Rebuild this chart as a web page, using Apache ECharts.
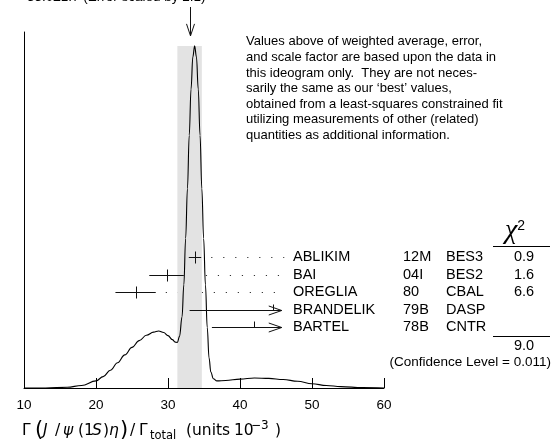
<!DOCTYPE html>
<html><head><meta charset="utf-8">
<script src="https://cdn.jsdelivr.net/npm/echarts@6/dist/echarts.min.js"></script>
<style>html,body{margin:0;padding:0;background:#fff}#c{width:552px;height:448px}</style>
</head><body><div id="c"></div>
<script>
// ---------- data ----------
const xTicks = [10, 20, 30, 40, 50, 60];
const names = ['ABLIKIM', 'BAI', 'OREGLIA', 'BRANDELIK', 'BARTEL'];
const years = ['12M', '04I', '80', '79B', '78B'];
const experiments = ['BES3', 'BES2', 'CBAL', 'DASP', 'CNTR'];
const values = [33.75, 29.8, 25.5, 44.6, 41.9];
const errors = [0.86, 2.4, 2.8, 11.6, 5.8];
const chi2 = ['0.9', '1.6', '6.6', '', ''];
const chi2Total = '9.0';
const confidenceLevel = '0.011';
const average = 33.0;
const averageError = 1.7;
const scaleFactor = 2.1;
const ideogramX = [10.0, 13.0, 16.0, 18.0, 20.0, 21.0, 22.0, 23.0, 24.0, 25.0, 26.0, 27.0, 28.0, 28.7, 29.4, 30.0, 30.6, 31.0, 31.3, 31.6, 31.95, 32.2, 32.45, 32.7, 32.95, 33.2, 33.45, 33.7, 33.95, 34.2, 34.45, 34.7, 34.95, 35.2, 35.45, 35.7, 35.95, 36.3, 36.8, 38.0, 40.0, 42.0, 44.0, 46.0, 48.0, 50.0, 52.0, 54.0, 57.0, 60.0];
const ideogramY = [0.000, 0.000, 0.002, 0.007, 0.020, 0.032, 0.050, 0.071, 0.093, 0.114, 0.133, 0.148, 0.157, 0.160, 0.156, 0.147, 0.136, 0.129, 0.128, 0.145, 0.200, 0.290, 0.420, 0.560, 0.710, 0.840, 0.930, 0.961, 0.930, 0.840, 0.710, 0.560, 0.420, 0.290, 0.170, 0.085, 0.045, 0.026, 0.020, 0.021, 0.025, 0.028, 0.027, 0.024, 0.019, 0.012, 0.007, 0.004, 0.001, 0.000];
const paragraph = [
  'Values above of weighted average, error,',
  'and scale factor are based upon the data in',
  'this ideogram only.  They are not neces-',
  "sarily the same as our \u2018best\u2019 values,",
  'obtained from a least-squares constrained fit',
  'utilizing measurements of other (related)',
  'quantities as additional information.'
];

// ---------- layout ----------
const FONT = '"Liberation Sans", Arial, Helvetica, sans-serif';
const MATH = '"DejaVu Sans", sans-serif';
const labelEdge = 45.8;               // x value where the label column begins
const colName = 293, colYear = 403, colExp = 446, colChi = 524;

const chart = echarts.init(document.getElementById('c'), null, {renderer: 'canvas'});

const curveData = ideogramX.map((x, i) => [x, ideogramY[i]]);
const measData = values.map((v, i) => [v, i, errors[i]]);
const peak = Math.max(...ideogramY);

function px(v) { return Math.round(v) + 0.5; }

function renderDots(params, api) {
  const v = api.value(0), row = api.value(1), e = api.value(2);
  const hi = api.coord([v + e, row]);
  const edge = api.coord([labelEdge, row]);
  if (hi[0] >= edge[0]) return {type: 'group', children: []};
  const y = px(hi[1]);
  return {type: 'line', shape: {x1: hi[0] + 10, y1: y, x2: edge[0] + 2.5, y2: y},
    style: {stroke: '#333', lineWidth: 1, lineDash: [1.2, 10.8]}};
}

function renderMeas(params, api) {
  const i = params.dataIndex;
  const v = api.value(0), row = api.value(1), e = api.value(2);
  const c = api.coord([v, row]);
  const lo = api.coord([v - e, row]);
  const hi = api.coord([v + e, row]);
  const edge = api.coord([labelEdge, row]);
  const y = px(c[1]);
  const cx = px(c[0]);
  const st = {stroke: '#111', lineWidth: 1};
  const ch = [];
  if (hi[0] < edge[0]) {
    ch.push({type: 'line', shape: {x1: lo[0], y1: y, x2: hi[0], y2: y}, style: st});
    ch.push({type: 'line', shape: {x1: cx, y1: y - 6, x2: cx, y2: y + 6}, style: st});
  } else {
    ch.push({type: 'line', shape: {x1: lo[0], y1: y, x2: edge[0], y2: y}, style: st});
    ch.push({type: 'polyline', shape: {points: [[edge[0] - 13, y - 4.5], [edge[0], y], [edge[0] - 13, y + 4.5]]}, style: {stroke: '#111', lineWidth: 1, fill: null}});
    ch.push({type: 'line', shape: {x1: cx, y1: y - 6, x2: cx, y2: y}, style: st});
  }
  const tStyle = (text, x, align) => ({type: 'text', style: {text, x, y: c[1], font: '14.5px ' + FONT, fill: '#000', align, verticalAlign: 'middle', textAlign: align, textVerticalAlign: 'middle'}});
  ch.push(tStyle(names[i], colName, 'left'));
  ch.push(tStyle(years[i], colYear, 'left'));
  ch.push(tStyle(experiments[i], colExp, 'left'));
  if (chi2[i]) ch.push(tStyle(chi2[i], colChi, 'center'));
  return {type: 'group', children: ch};
}

function renderBand(params, api) {
  const avg = api.value(0), err = api.value(1), top = api.value(2);
  const lo = api.coord([avg - err, 0]);
  const hi = api.coord([avg + err, top]);
  const mid = api.coord([avg, top]);
  const ax = px(mid[0]);
  const tip = hi[1] - 10;
  return {type: 'group', children: [
    {type: 'rect', shape: {x: lo[0], y: hi[1], width: hi[0] - lo[0], height: lo[1] - hi[1]}, style: {fill: '#e3e3e3'}},
    {type: 'line', shape: {x1: ax, y1: 7, x2: ax, y2: tip}, style: {stroke: '#111', lineWidth: 1}},
    {type: 'polyline', shape: {points: [[ax - 4, tip - 12], [ax, tip], [ax + 4, tip - 12]]}, style: {stroke: '#111', lineWidth: 1, fill: null}}
  ]};
}

// axis title: tokens with their start positions (layout of math spacing)
const titleTokens = [
  ['\u0393', 'n', 23], ['(', 'bp', 36], ['J', 'i', 44], ['/', 'n', 56], ['\u03c8', 'i', 64],
  ['(', 'n', 79], ['1', 'n', 85], ['S', 'i', 93], [')', 'n', 104], ['\u03b7', 'i', 110],
  [')', 'bp', 121], ['/', 'n', 131], ['\u0393', 'n', 140], ['total', 'sub', 151],
  ['(', 'n', 187], ['units', 'n', 193], ['10', 'n', 235], ['\u22123', 'sup', 252], [')', 'n', 276]
];
const baseRich = {
  n: {fontSize: 15.5, fontFamily: MATH, lineHeight: 22, verticalAlign: 'middle', fill: '#000'},
  i: {fontSize: 15.5, fontFamily: MATH, fontStyle: 'italic', lineHeight: 22, verticalAlign: 'middle', fill: '#000'},
  bp: {fontSize: 21, fontFamily: MATH, lineHeight: 22, verticalAlign: 'middle', fill: '#000'},
  sub: {fontSize: 11.5, fontFamily: MATH, lineHeight: 12, verticalAlign: 'bottom', fill: '#000'},
  sup: {fontSize: 12, fontFamily: MATH, lineHeight: 12, verticalAlign: 'top', fill: '#000'}
};
const titleRich = {};
let titleText = '';
titleTokens.forEach((t, k) => {
  const next = k < titleTokens.length - 1 ? titleTokens[k + 1][2] : t[2] + 8;
  const key = 't' + k;
  titleRich[key] = Object.assign({}, baseRich[t[1]], {width: next - t[2], align: 'left'});
  titleText += '{' + key + '|' + t[0] + '}';
});

const option = {
  animation: false,
  backgroundColor: '#fff',
  grid: {left: 24, right: 168, top: 32, bottom: 60, containLabel: false},
  xAxis: {
    type: 'value', min: xTicks[0], max: xTicks[xTicks.length - 1], interval: 10,
    axisLine: {show: true, onZero: false, lineStyle: {color: '#000', width: 1}},
    axisTick: {show: true, inside: true, length: 10, lineStyle: {color: '#000', width: 1}},
    axisLabel: {show: true, color: '#000', fontSize: 13.5, fontFamily: FONT, margin: 10},
    splitLine: {show: false}
  },
  yAxis: [
    {type: 'value', min: 0, max: 1,
      axisLine: {show: true, lineStyle: {color: '#000', width: 1}},
      axisTick: {show: false}, axisLabel: {show: false}, splitLine: {show: false}},
    {type: 'value', min: -12.87, max: 7.47, inverse: true, show: false,
      axisLine: {show: false}, axisTick: {show: false}, axisLabel: {show: false}, splitLine: {show: false}}
  ],
  series: [
    {type: 'custom', name: 'dots', xAxisIndex: 0, yAxisIndex: 1, z: 1, clip: false,
      renderItem: renderDots, data: measData, silent: true},
    {type: 'custom', name: 'band', xAxisIndex: 0, yAxisIndex: 0, z: 2, clip: false,
      renderItem: renderBand, data: [[average, averageError, peak]], silent: true},
    {type: 'line', name: 'ideogram', xAxisIndex: 0, yAxisIndex: 0, z: 3,
      data: curveData, showSymbol: false, smooth: 0.4, smoothMonotone: 'x',
      lineStyle: {color: '#000', width: 1.1}, silent: true},
    {type: 'custom', name: 'meas', xAxisIndex: 0, yAxisIndex: 1, z: 4, clip: false,
      renderItem: renderMeas, data: measData, silent: true}
  ],
  graphic: [
    {type: 'text', silent: true,
      style: {text: 'WEIGHTED AVERAGE\n' + average.toFixed(1) + '\u00b1' + averageError.toFixed(1) + ' (Error scaled by ' + scaleFactor + ')',
        x: 27, y: 4.5, font: '13.5px ' + FONT, fill: '#000', lineHeight: 15,
        align: 'left', verticalAlign: 'bottom', textAlign: 'left', textVerticalAlign: 'bottom'}},
    {type: 'text', left: 246, top: 34, silent: true,
      style: {text: paragraph.join('\n'), font: '13px ' + FONT, fill: '#000', lineHeight: 15.6}},
    {type: 'text', left: 505, top: 215, silent: true,
      style: {text: '{c|\u03c7}{s|2}', rich: {
        c: {fontSize: 28, fontFamily: '"Liberation Serif", serif', fontStyle: 'italic', lineHeight: 30, verticalAlign: 'bottom'},
        s: {fontSize: 14, fontFamily: FONT, lineHeight: 26, verticalAlign: 'top', padding: [4, 0, 0, 0]}}}},
    {type: 'line', silent: true, shape: {x1: 493, y1: 246.5, x2: 550, y2: 246.5}, style: {stroke: '#000', lineWidth: 1}},
    {type: 'line', silent: true, shape: {x1: 493, y1: 336.5, x2: 550, y2: 336.5}, style: {stroke: '#000', lineWidth: 1}},
    {type: 'text', silent: true, style: {text: chi2Total, x: colChi, y: 346, font: '14.5px ' + FONT, fill: '#000', align: 'center', verticalAlign: 'middle', textAlign: 'center', textVerticalAlign: 'middle'}},
    {type: 'text', silent: true, style: {text: '(Confidence Level = ' + confidenceLevel + ')', x: 551, y: 362, font: '13.5px ' + FONT, fill: '#000', align: 'right', verticalAlign: 'middle', textAlign: 'right', textVerticalAlign: 'middle'}},
    {type: 'text', left: 22, top: 420, silent: true,
      style: {text: titleText, rich: titleRich}}
  ]
};
chart.setOption(option);
</script>
</body></html>
